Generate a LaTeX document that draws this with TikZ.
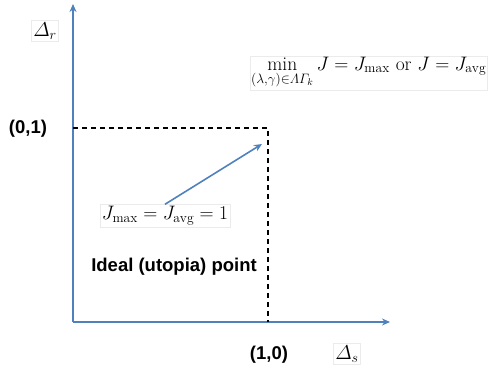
\documentclass[tikz,border=0pt]{standalone}
\usepackage{fix-cm}
\usepackage{amsmath}
\usepackage{fontspec}
\setsansfont{Liberation Sans}
\usetikzlibrary{arrows.meta}
\definecolor{axisblue}{RGB}{79,129,189}
\begin{document}
\begin{tikzpicture}[x=1pt,y=-1pt,
    axis/.style={axisblue,line width=1.6pt,-{Stealth[length=8pt,width=7pt]}},
    bound/.style={black,line width=1.4pt,dash pattern=on 5pt off 4pt},
    lbl/.style={font=\fontsize{18.5}{20}\sffamily\bfseries},
    mathbox/.style={draw=black!8,inner sep=2pt,font=\fontsize{19.5}{22}\selectfont}]
    \useasboundingbox (0,0) rectangle (495,366);

    \coordinate (O) at (73,322);
    \coordinate (Ytop) at (73,4);
    \coordinate (Xend) at (390,322);
    \coordinate (P01) at (73,128);
    \coordinate (Putopia) at (268,128);
    \coordinate (P10) at (268,322);

    \draw[axis] (O) -- (Ytop);
    \draw[axis] (O) -- (Xend);
    \draw[bound] (P01) -- (Putopia) -- (P10);

    \node[mathbox,font=\fontsize{20}{22}\selectfont] (Dr) at (45,31) {$\varDelta_r$};
    \node[mathbox,font=\fontsize{20}{22}\selectfont] (Ds) at (347,354) {$\varDelta_s$};
    \node[lbl] (L01) at (28,129) {(0,1)};
    \node[lbl] (L10) at (269,355) {(1,0)};
    \node[lbl] (Lideal) at (174,267) {Ideal (utopia) point};

    \node[mathbox] (Jeq) at (165,216) {$J_{\max} = J_{\mathrm{avg}} = 1$};
    \node[mathbox,anchor=west,inner sep=1pt] (Jmin) at (250,73)
      {$\min\limits_{(\lambda,\gamma)\in\varLambda\varGamma_k} J = J_{\max}\ \mathrm{or}\ J = J_{\mathrm{avg}}$};

    \draw[axisblue,line width=1.6pt,-{Stealth[length=8pt,width=7pt]}] (Jeq.north) -- (262,144);
\end{tikzpicture}
\end{document}
